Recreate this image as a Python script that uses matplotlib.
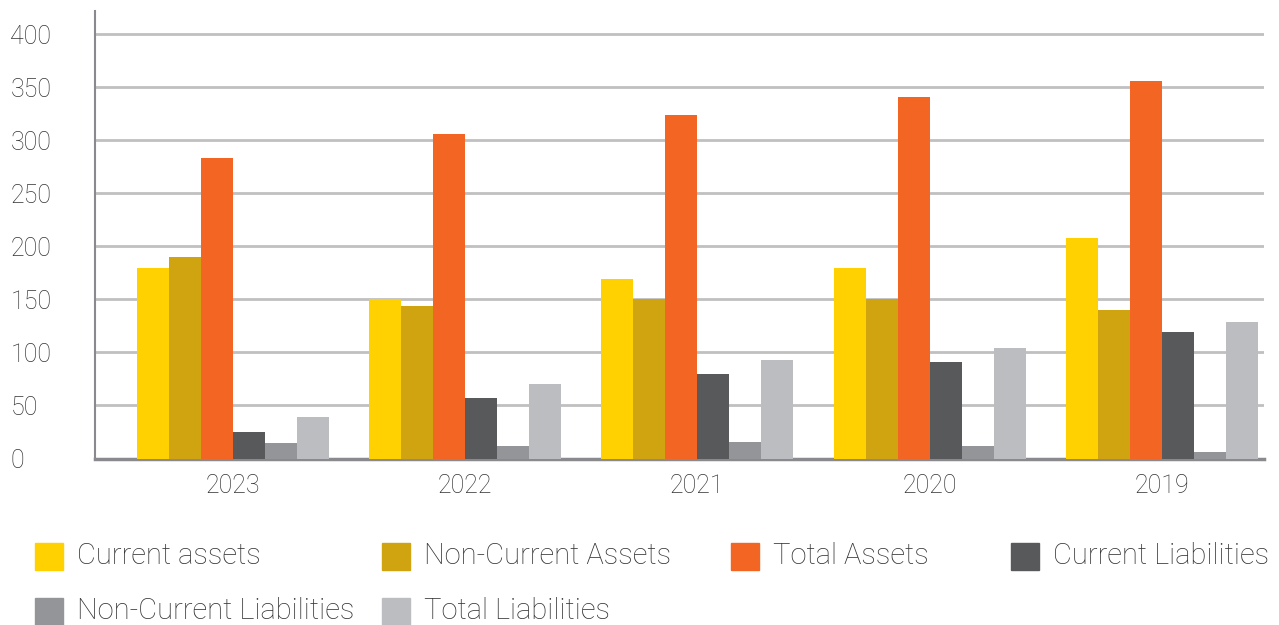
import numpy as np
import matplotlib
matplotlib.use("Agg")
import matplotlib.pyplot as plt
from matplotlib.patches import Rectangle

#------------------------------------------------------------------------------
years = ["2023", "2022", "2021", "2020", "2019"]
series = ["Current assets", "Non-Current Assets", "Total Assets",
          "Current Liabilities", "Non-Current Liabilities", "Total Liabilities"]

current_assets = [180, 150, 169, 180, 208]
non_current_assets = [190, 144, 150, 150, 140]
total_assets = [283, 306, 324, 341, 356]
current_liabilities = [25, 57, 80, 91, 119]
non_current_liabilities = [15, 12, 16, 12, 6]
total_liabilities = [39, 70, 93, 104, 129]

colors = ["#FFD100", "#CFA410", "#F26522", "#58595B", "#939598", "#BCBDC0"]
yticks = [0, 50, 100, 150, 200, 250, 300, 350, 400]

#------------------------------------------------------------------------------
plt.rcParams['font.family'] = ['Roboto', 'DejaVu Sans']
textColor = "#333333"

fig = plt.figure(figsize=(12.79, 6.25), dpi=100)
ax = fig.add_axes([0.0743, 0.2664, 0.9140, 0.7160])

values = [current_assets, non_current_assets, total_assets,
          current_liabilities, non_current_liabilities, total_liabilities]
x = np.arange(len(years))
barWidth = 0.1378
for i, vals in enumerate(values):
    ax.bar(x + (i - 2.5) * barWidth, vals, barWidth, color=colors[i],
           zorder=3, linewidth=0)

ax.set_xlim(-0.594, 4.44)
ax.set_ylim(0, 422)
ax.set_yticks(yticks)
ax.set_xticks(x)
ax.set_xticklabels(years)
ax.yaxis.grid(True, color="#c0c0c0", linewidth=2, zorder=0)
ax.set_axisbelow(True)

for s in ["top", "right"]:
    ax.spines[s].set_visible(False)
ax.spines["left"].set_color("#8a8a8e")
ax.spines["left"].set_linewidth(1.5)
ax.spines["bottom"].set_color("#8a8a8e")
ax.spines["bottom"].set_linewidth(2.5)
ax.tick_params(axis="both", length=0, labelsize=18, labelcolor=textColor)
ax.tick_params(axis="y", pad=61)
ax.tick_params(axis="x", pad=11)
for lab in ax.get_yticklabels():
    lab.set_horizontalalignment("left")
for lab in ax.get_xticklabels() + ax.get_yticklabels():
    lab.set_fontweight("light")

#------------------------------------------------------------------------------
##  Legend drawn by hand (row-major, uneven columns)
legendX = [35, 382, 731, 1011]
legendY = [556, 611]
for i, name in enumerate(series):
    row, col = divmod(i, 4)
    px, py = legendX[col], legendY[row]
    fig.patches.append(Rectangle(((px) / 1279, 1 - (py + 13.5) / 625), 28 / 1279, 27 / 625,
                                 transform=fig.transFigure, color=colors[i]))
    fig.text((px + 42) / 1279, 1 - py / 625, name, fontsize=21, color=textColor,
             fontweight="light", va="center", ha="left")

fig.savefig("out.png", dpi=100)
